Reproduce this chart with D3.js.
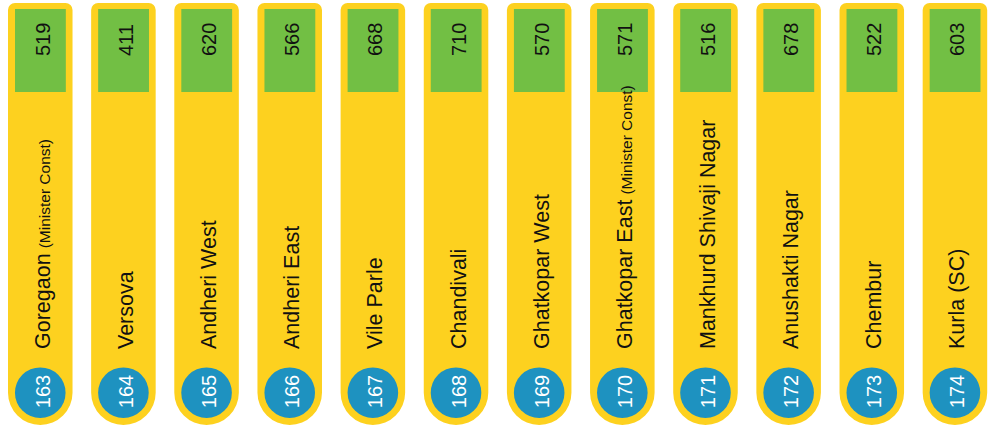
<!DOCTYPE html>
<html>
<head>
<meta charset="utf-8">
<script src="https://cdn.jsdelivr.net/npm/d3@7"></script>
<style>
  html, body { margin: 0; padding: 0; background: #ffffff; }
  svg { display: block; font-family: "Liberation Sans", Arial, Helvetica, sans-serif; }
</style>
</head>
<body>
<svg id="chart" width="989" height="427"></svg>
<script>
const ids = [163, 164, 165, 166, 167, 168, 169, 170, 171, 172, 173, 174];
const names = ["Goregaon", "Versova", "Andheri West", "Andheri East", "Vile Parle", "Chandivali",
  "Ghatkopar West", "Ghatkopar East", "Mankhurd Shivaji Nagar", "Anushakti Nagar", "Chembur", "Kurla (SC)"];
const notes = ["(Minister Const)", "", "", "", "", "", "", "(Minister Const)", "", "", "", ""];
const values = [519, 411, 620, 566, 668, 710, 570, 571, 516, 678, 522, 603];

(function () {
const svg = d3.select("#chart");

const x = d3.scaleBand().domain(ids).range([8, 987.2]).paddingInner(0.224).paddingOuter(0);
const bw = x.bandwidth();

const yTop = 3, yBottom = 425, rTop = 7;
const rBot = bw / 2;

const YELLOW = "#FDD11F", GREEN = "#72BF44", BLUE = "#1E92C0";

const g = svg.selectAll("g.item").data(ids.map((id, i) => ({id, name: names[i], note: notes[i], value: values[i]})))
  .enter().append("g").attr("class", "item")
  .attr("transform", d => `translate(${x(d.id)},0)`);

// pill
g.append("path")
  .attr("d", () => {
    const p = d3.path();
    p.moveTo(0, yTop + rTop);
    p.arcTo(0, yTop, rTop, yTop, rTop);
    p.lineTo(bw - rTop, yTop);
    p.arcTo(bw, yTop, bw, yTop + rTop, rTop);
    p.lineTo(bw, yBottom - rBot);
    p.arc(bw / 2, yBottom - rBot, rBot, 0, Math.PI, false);
    p.closePath();
    return p.toString();
  })
  .attr("fill", YELLOW);

// green box
g.append("rect")
  .attr("x", 7).attr("y", 9)
  .attr("width", bw - 13.7).attr("height", 83)
  .attr("fill", GREEN);

// value text (rotated -90)
g.append("text")
  .attr("transform", `translate(${bw / 2 + 9.5},56) rotate(-90)`)
  .attr("font-size", 20)
  .attr("fill", "#111")
  .attr("text-anchor", "start")
  .text(d => d.value);

// name text (rotated -90)
const t = g.append("text")
  .attr("transform", `translate(${bw / 2 + 9.5},349) rotate(-90)`)
  .attr("font-size", 21.5)
  .attr("fill", "#111")
  .attr("text-anchor", "start");
t.append("tspan").text(d => d.name);
t.filter(d => d.note).append("tspan")
  .attr("dx", 5)
  .attr("font-size", 15.5)
  .text(d => d.note);

// blue circle
g.append("circle")
  .attr("cx", bw / 2).attr("cy", 392.7).attr("r", 25.3)
  .attr("fill", BLUE);

g.append("text")
  .attr("transform", `translate(${bw / 2 + 9.5},391.5) rotate(-90)`)
  .attr("font-size", 20)
  .attr("fill", "#ffffff")
  .attr("text-anchor", "middle")
  .text(d => d.id);
})();
</script>
</body>
</html>
